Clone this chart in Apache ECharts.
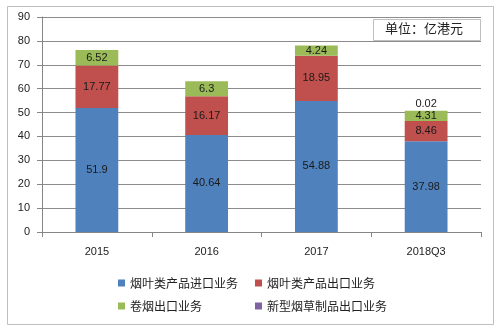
<!DOCTYPE html>
<html><head><meta charset="utf-8">
<script src="https://cdn.jsdelivr.net/npm/echarts@6/dist/echarts.min.js"></script>
<style>html,body{margin:0;padding:0;background:#fff}#c{width:500px;height:329px}</style>
</head><body><div id="c"></div>
<script>
const categories = ['2015', '2016', '2017', '2018Q3'];
const leafImport = [51.9, 40.64, 54.88, 37.98];
const leafExport = [17.77, 16.17, 18.95, 8.46];
const cigExport = [6.52, 6.3, 4.24, 4.31];
const newTobacco = [null, null, null, 0.02];
const seriesNames = ['烟叶类产品进口业务', '烟叶类产品出口业务', '卷烟出口业务', '新型烟草制品出口业务'];
const colors = ['#4F81BD', '#C0504D', '#9BBB59', '#8064A2'];
const yTicks = [0, 10, 20, 30, 40, 50, 60, 70, 80, 90];

const font = '"Liberation Sans","Noto Sans CJK SC",sans-serif';
const cjk = '"Noto Sans CJK SC","Liberation Sans",sans-serif';
const chart = echarts.init(document.getElementById('c'));
const lab = {show: true, position: 'inside', color: '#1a1a1a', fontSize: 11, fontFamily: font};
function mk(i, data, label) {
  return {name: seriesNames[i], type: 'bar', stack: 's', data: data, barWidth: '39%',
    itemStyle: {color: colors[i]}, label: label || lab, animation: false};
}
function leg(i, left, top) {
  return {data: [seriesNames[i]], left: left, top: top, itemWidth: 7, itemHeight: 7, icon: 'rect',
    textStyle: {fontSize: 12, color: '#222', fontFamily: cjk}, itemGap: 0, padding: 0, selectedMode: false};
}
chart.setOption({
  backgroundColor: '#fff',
  animation: false,
  grid: {left: 42, right: 19, top: 17, bottom: 97},
  xAxis: {type: 'category', data: categories,
    axisLine: {lineStyle: {color: '#868686'}},
    axisTick: {show: true, length: 5, lineStyle: {color: '#868686'}},
    axisLabel: {color: '#222', fontSize: 11, fontFamily: font, margin: 14}},
  yAxis: {type: 'value', min: yTicks[0], max: yTicks[yTicks.length - 1], interval: 10,
    axisLine: {show: true, lineStyle: {color: '#868686'}},
    axisTick: {show: true, length: 5, lineStyle: {color: '#868686'}},
    splitLine: {lineStyle: {color: '#8c8c8c'}},
    axisLabel: {color: '#222', fontSize: 11, fontFamily: font, margin: 12}},
  legend: [leg(0, 118, 277), leg(1, 255, 277), leg(2, 118, 300), leg(3, 255, 300)],
  series: [
    mk(0, leafImport), mk(1, leafExport), mk(2, cigExport),
    mk(3, newTobacco, {show: true, position: 'top', distance: 1, color: '#1a1a1a', fontSize: 11, fontFamily: font})
  ],
  graphic: [
    {type: 'rect', left: 5, top: 4, shape: {width: 486, height: 318}, style: {fill: 'none', stroke: '#bfbfbf', lineWidth: 1}, z: 0},
    {type: 'rect', left: 373, top: 19, shape: {width: 107, height: 21}, style: {fill: '#fff', stroke: '#bfbfbf', lineWidth: 1}, z: 10},
    {type: 'text', left: 385, top: 22, style: {text: '单位：亿港元', fontSize: 13, fill: '#222', fontFamily: cjk}, z: 11}
  ]
});
</script></body></html>
